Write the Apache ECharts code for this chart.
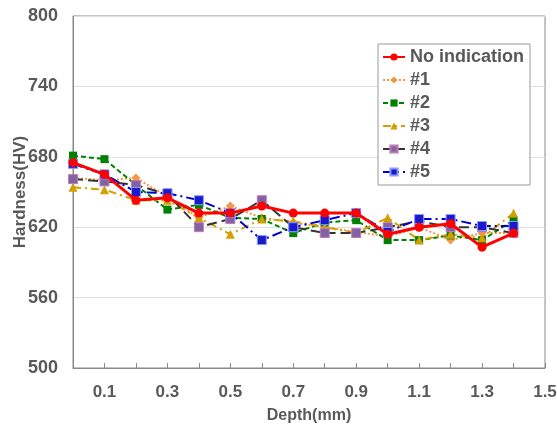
<!DOCTYPE html>
<html>
<head>
<meta charset="utf-8">
<script src="https://cdn.jsdelivr.net/npm/echarts@6/dist/echarts.min.js"></script>
<style>
	body { margin: 0; background: #fff; }
	#hvChart { width: 557px; height: 431px; }
</style>
</head>
<body>
<div id="hvChart"></div>
<script>
// depth (mm) and hardness readings
var depths = [0, 0.1, 0.2, 0.3, 0.4, 0.5, 0.6, 0.7, 0.8, 0.9, 1.0, 1.1, 1.2, 1.3, 1.4];
var noIndication = [675, 665, 643, 645, 632, 632, 638, 632, 632, 632, 614, 620, 623, 603, 615];
var s1 = [662, 660, 662, 646, 628, 638, 628, 624, 620, 616, 612, 620, 609, 615, 615];
var s2 = [681, 678, 656, 635, 639, 628, 627, 615, 624, 626, 609, 609, 613, 609, 626];
var s3 = [654, 652, 643, 643, 628, 614, 627, 625, 620, 615, 628, 609, 614, 611, 632];
var s4 = [661, 659, 656, 648, 620, 627, 643, 620, 615, 615, 620, 625, 620, 620, 615];
var s5 = [674, 665, 650, 649, 643, 632, 609, 620, 626, 632, 616, 627, 627, 621, 621];
var names = ['No indication', '#1', '#2', '#3', '#4', '#5'];

function pairs(vals) {
	var out = [];
	for (var i = 0; i < depths.length; i++) out.push([depths[i], vals[i]]);
	return out;
}

var txt = '#595959';
var hvChart = echarts.init(document.getElementById('hvChart'));
var opt = {
	animation: false,
	backgroundColor: '#fff',
	textStyle: { fontFamily: 'Liberation Sans, Arial, sans-serif' },
	grid: {
		left: 73, right: 12, top: 16, bottom: 63,
		outerBoundsMode: 'none',
		show: true, borderColor: '#888', borderWidth: 1
	},
	legend: {
		orient: 'vertical',
		left: 378, top: 44,
		padding: [4, 6, 4, 4],
		itemGap: 5,
		itemWidth: 22, itemHeight: 9,
		backgroundColor: '#fff',
		borderColor: '#999', borderWidth: 1,
		textStyle: { color: txt, fontSize: 18, fontWeight: 'bold' },
		data: names
	},
	xAxis: {
		type: 'value', min: 0, max: 1.5, interval: 0.1,
		name: 'Depth(mm)', nameLocation: 'middle', nameGap: 40,
		nameMoveOverlap: false,
		nameTextStyle: { color: txt, fontSize: 16, fontWeight: 'bold' },
		axisLine: { lineStyle: { color: '#888' } },
		axisTick: { inside: true, length: 5, lineStyle: { color: '#888' } },
		splitLine: { show: false },
		axisLabel: {
			color: txt, fontSize: 17, fontWeight: 'bold', margin: 16,
			formatter: function (v) {
				var k = Math.round(v * 10);
				return k % 2 === 1 ? (k / 10).toFixed(1) : '';
			}
		}
	},
	yAxis: {
		type: 'value', min: 500, max: 800, interval: 60,
		name: 'Hardness(HV)', nameLocation: 'middle', nameGap: 44,
		nameMoveOverlap: false,
		nameTextStyle: { color: txt, fontSize: 17, fontWeight: 'bold' },
		axisLine: { show: true, lineStyle: { color: '#888' } },
		axisTick: { show: false },
		splitLine: { lineStyle: { color: '#e0e0e0' } },
		axisLabel: { color: txt, fontSize: 18, fontWeight: 'bold', margin: 15 }
	},
	series: [
		{
			name: names[0], type: 'line', data: pairs(noIndication), z: 10,
			symbol: 'circle', symbolSize: 9,
			lineStyle: { color: '#ff0000', width: 3 },
			itemStyle: { color: '#ff0000' }
		},
		{
			name: names[1], type: 'line', data: pairs(s1),
			symbol: 'diamond', symbolSize: 9,
			lineStyle: { color: '#f79646', width: 2, type: 'dotted' },
			itemStyle: { color: '#f79646' }
		},
		{
			name: names[2], type: 'line', data: pairs(s2),
			symbol: 'rect', symbolSize: 8,
			lineStyle: { color: '#008000', width: 2, type: [5, 3] },
			itemStyle: { color: '#008000' }
		},
		{
			name: names[3], type: 'line', data: pairs(s3),
			symbol: 'triangle', symbolSize: 9,
			lineStyle: { color: '#d4a000', width: 2, type: [8, 4, 2, 4] },
			itemStyle: { color: '#d4a000' }
		},
		{
			name: names[4], type: 'line', data: pairs(s4),
			symbol: 'rect', symbolSize: 9,
			lineStyle: { color: '#333333', width: 2, type: [10, 5] },
			itemStyle: { color: '#8064a2', borderColor: '#c07ab8', borderWidth: 1 }
		},
		{
			name: names[5], type: 'line', data: pairs(s5),
			symbol: 'rect', symbolSize: 9,
			lineStyle: { color: '#0000cc', width: 2, type: [10, 4, 2, 4] },
			itemStyle: { color: '#1a1acc', borderColor: '#8899ff', borderWidth: 1 }
		}
	]
};
hvChart.setOption(opt);
</script>
</body>
</html>
